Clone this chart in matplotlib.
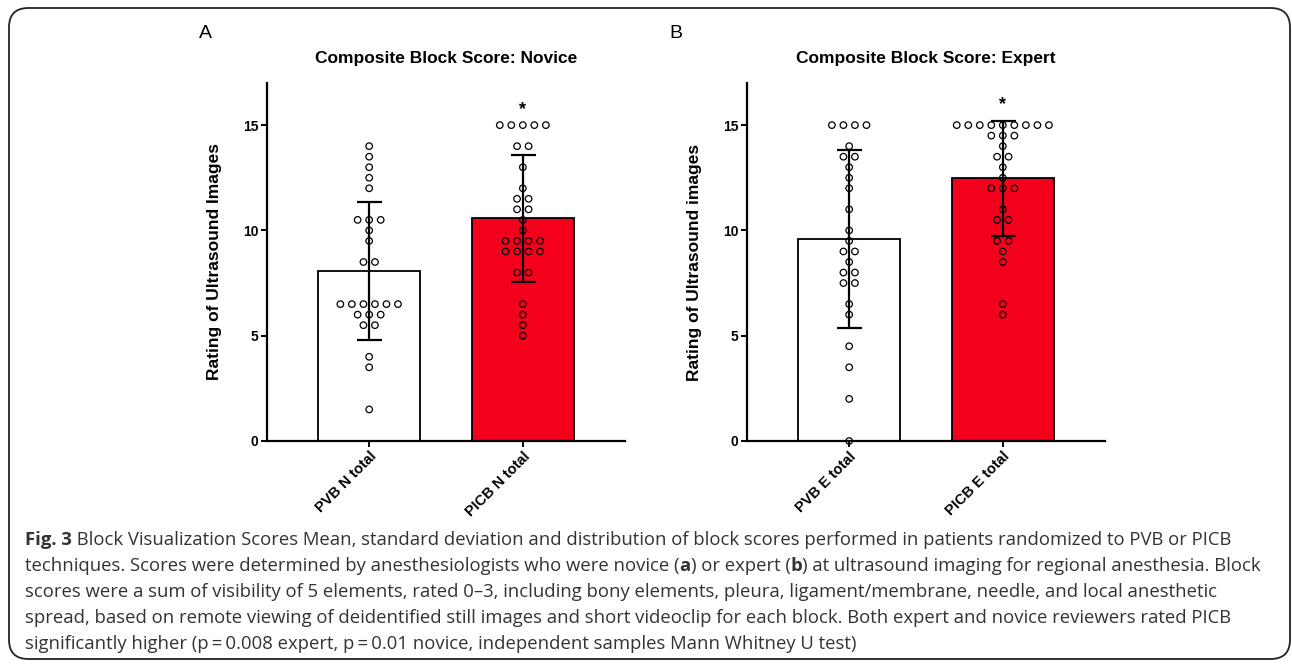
import numpy as np
import matplotlib
matplotlib.use("Agg")
import matplotlib.pyplot as plt
from matplotlib.patches import FancyBboxPatch
from matplotlib.text import Annotation

# ---------------- data ----------------
panel_letters = ["A", "B"]
titles = ["Composite Block Score: Novice", "Composite Block Score: Expert"]
ylabels = ["Rating of Ultrasound Images", "Rating of Ultrasound images"]
categories_novice = ["PVB N total", "PICB N total"]
categories_expert = ["PVB E total", "PICB E total"]

pvb_novice = [14, 13.5, 13, 12.5, 12, 10.5, 10.5, 10.5, 10, 9.5, 8.5, 8.5,
              6.5, 6.5, 6.5, 6.5, 6.5, 6.5, 6, 6, 6, 5.5, 5.5, 4, 3.5, 1.5]
picb_novice = [15, 15, 15, 15, 15, 14, 14, 13, 12, 11.5, 11.5, 11, 11, 10.5, 10,
               9.5, 9.5, 9.5, 9.5, 9, 9, 9, 9, 8, 8, 6.5, 6, 5.5, 5]
pvb_expert = [15, 15, 15, 15, 14, 13.5, 13.5, 13, 12.5, 12, 11, 10, 9.5, 9, 9,
              8.5, 8, 8, 7.5, 7.5, 6.5, 6, 4.5, 3.5, 2, 0]
picb_expert = [15, 15, 15, 15, 15, 15, 15, 15, 15, 14.5, 14.5, 14.5, 14, 13.5, 13.5,
               13, 12.5, 12, 12, 12, 11, 10.5, 10.5, 9.5, 9.5, 9, 8.5, 6.5, 6]

significant = ["", "*"]
bar_colors = ["white", "#F4001C"]
yticks = [0, 5, 10, 15]

caption_lines = [
    [("Fig. 3", "bold"), (" Block Visualization Scores Mean, standard deviation and distribution of block scores performed in patients randomized to PVB or PICB", "normal")],
    [("techniques. Scores were determined by anesthesiologists who were novice (", "normal"), ("a", "bold"), (") or expert (", "normal"), ("b", "bold"), (") at ultrasound imaging for regional anesthesia. Block", "normal")],
    [("scores were a sum of visibility of 5 elements, rated 0\u20133, including bony elements, pleura, ligament/membrane, needle, and local anesthetic", "normal")],
    [("spread, based on remote viewing of deidentified still images and short videoclip for each block. Both expert and novice reviewers rated PICB", "normal")],
    [("significantly higher (p\u2009=\u20090.008 expert, p\u2009=\u20090.01 novice, independent samples Mann Whitney U test)", "normal")],
]

# ---------------- figure ----------------
W, H = 1292, 664
plt.rcParams["font.family"] = ["Liberation Sans", "DejaVu Sans"]
fig = plt.figure(figsize=(W / 100, H / 100), dpi=100)

border = FancyBboxPatch((9 / W, 1 - 659 / H), (1290 - 9) / W, (659 - 8) / H,
                        boxstyle="round,pad=0,rounding_size=0.015",
                        transform=fig.transFigure, facecolor="none",
                        edgecolor="#222222", linewidth=1.3, mutation_aspect=W / H)
fig.patches.append(border)

panels = [
    (267, categories_novice, [pvb_novice, picb_novice], 446, 205),
    (747, categories_expert, [pvb_expert, picb_expert], 926, 676),
]

dot_step = 0.075
for k, (left_px, cats, groups, title_x, letter_x) in enumerate(panels):
    ax = fig.add_axes([left_px / W, 1 - 441 / H, 358 / W, 358 / H])
    xs = np.arange(len(cats))
    means = [np.mean(g) for g in groups]
    sds = [np.std(g, ddof=1) for g in groups]
    ax.bar(xs, means, width=0.66, color=bar_colors, edgecolor="black",
           linewidth=1.3, zorder=1)
    for i, g in enumerate(groups):
        vals = np.array(g, dtype=float)
        px, py = [], []
        for v in np.unique(vals):
            n = int(np.sum(vals == v))
            offs = (np.arange(n) - (n - 1) / 2) * dot_step
            px.extend(i + offs)
            py.extend([v] * n)
        ax.scatter(px, py, s=22, facecolors="none", edgecolors="black",
                   linewidths=0.9, zorder=3, clip_on=False)
        ax.errorbar(i, means[i], yerr=sds[i], color="black", capsize=9,
                    elinewidth=1.6, capthick=1.6, zorder=4)
        if significant[i]:
            top = max(max(g), means[i] + sds[i])
            ax.text(i, top + 0.75, significant[i], ha="center", va="center",
                    fontsize=13, fontweight="bold")
    ax.set_xlim(-0.665, 1.665)
    ax.set_ylim(0, 17)
    ax.set_yticks(yticks)
    ax.set_xticks(xs)
    ax.set_xticklabels(cats, rotation=45, ha="right", rotation_mode="anchor",
                       fontsize=10.5, fontweight="bold")
    for lab in ax.get_yticklabels():
        lab.set_fontweight("bold")
        lab.set_fontsize(10)
    for s in ["top", "right"]:
        ax.spines[s].set_visible(False)
    for s in ["left", "bottom"]:
        ax.spines[s].set_linewidth(1.6)
    ax.tick_params(axis="both", length=4, width=1.4, pad=2)
    ax.set_ylabel(ylabels[k], fontsize=12.5, fontweight="bold")
    ax.yaxis.set_label_coords(-0.125, 0.5)
    fig.text(title_x / W, 1 - 58 / H, titles[k], ha="center", va="center",
             fontsize=12.5, fontweight="bold")
    fig.text(letter_x / W, 1 - 33 / H, panel_letters[k], ha="center", va="center",
             fontsize=14)

# ---------------- caption ----------------
line_baselines = [545, 571, 597, 623, 649]
cap_kw = dict(fontsize=13.3, color="#333333", family=["Open Sans", "DejaVu Sans"])
for y, runs in zip(line_baselines, caption_lines):
    prev = None
    for text, weight in runs:
        if prev is None:
            prev = fig.text(25 / W, 1 - y / H, text, ha="left", va="baseline",
                            fontweight=weight, **cap_kw)
        else:
            prev = fig.add_artist(Annotation(
                text, xy=(1, 0), xycoords=prev, ha="left", va="bottom",
                fontweight=weight, **cap_kw))

fig.savefig("out.png", dpi=100)
